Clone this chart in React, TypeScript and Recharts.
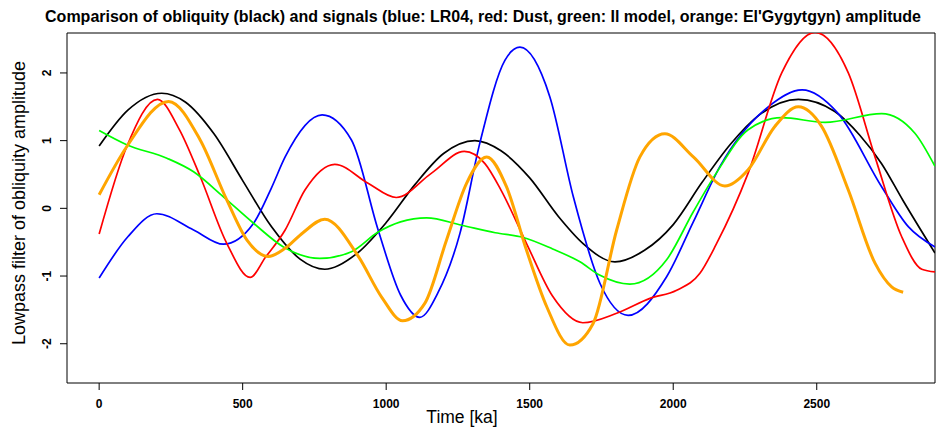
import React from "react";
import { LineChart, Line, XAxis, YAxis, ReferenceArea } from "recharts";

const FONT = '"Liberation Sans", Arial, Helvetica, sans-serif';

// obliquity (black)
const obliquityTime = [0, 100, 218, 300, 400, 500, 600, 700, 786, 900, 1000, 1100, 1200, 1309, 1400, 1500, 1600, 1686, 1797, 1900, 2000, 2100, 2200, 2300, 2436, 2563, 2650, 2726, 2800, 2912];
const obliquityAmp = [0.92, 1.45, 1.7, 1.57, 1.1, 0.41, -0.27, -0.75, -0.9, -0.66, -0.21, 0.35, 0.81, 1.0, 0.85, 0.45, -0.12, -0.52, -0.79, -0.62, -0.24, 0.38, 0.95, 1.38, 1.61, 1.43, 1.08, 0.66, 0.12, -0.66];

// LR04 (blue)
const lr04Time = [0, 100, 201, 329, 433, 538, 600, 648, 777, 879, 972, 1050, 1117, 1180, 1257, 1326, 1414, 1466, 1570, 1652, 1745, 1843, 1977, 2070, 2163, 2331, 2449, 2575, 2726, 2819, 2912];
const lr04Amp = [-1.03, -0.42, -0.08, -0.32, -0.53, -0.22, 0.3, 0.76, 1.38, 1.01, -0.32, -1.28, -1.61, -1.25, -0.37, 0.96, 2.19, 2.38, 1.65, 0.17, -1.11, -1.58, -1.01, -0.2, 0.62, 1.5, 1.75, 1.4, 0.32, -0.27, -0.57];

// Dust (red)
const dustTime = [0, 96, 203, 280, 352, 445, 526, 580, 648, 717, 821, 937, 1035, 1158, 1272, 1344, 1400, 1489, 1580, 1685, 1803, 1919, 2012, 2093, 2150, 2261, 2378, 2494, 2610, 2703, 2796, 2866, 2912];
const dustAmp = [-0.38, 0.91, 1.61, 1.16, 0.47, -0.52, -1.02, -0.72, -0.32, 0.27, 0.65, 0.37, 0.16, 0.52, 0.84, 0.66, 0.27, -0.52, -1.3, -1.69, -1.55, -1.33, -1.21, -0.96, -0.53, 0.52, 2.0, 2.6, 2.0, 0.76, -0.42, -0.9, -0.94];

// Il model (green)
const ilTime = [0, 96, 236, 329, 433, 538, 642, 769, 879, 972, 1050, 1141, 1263, 1380, 1478, 1580, 1675, 1745, 1849, 1977, 2070, 2150, 2261, 2378, 2529, 2726, 2842, 2912];
const ilAmp = [1.15, 0.94, 0.74, 0.54, 0.17, -0.22, -0.57, -0.74, -0.64, -0.35, -0.2, -0.14, -0.25, -0.36, -0.43, -0.6, -0.79, -0.99, -1.12, -0.76, -0.05, 0.52, 1.16, 1.34, 1.27, 1.4, 1.11, 0.62];

// El'Gygytgyn (orange)
const elgTime = [0, 96, 242, 352, 445, 515, 590, 648, 710, 786, 903, 984, 1057, 1135, 1210, 1280, 1350, 1419, 1489, 1559, 1640, 1721, 1803, 1884, 1971, 2070, 2180, 2261, 2354, 2436, 2517, 2610, 2703, 2761, 2801];
const elgAmp = [0.2, 0.91, 1.58, 1.01, 0.12, -0.47, -0.71, -0.59, -0.36, -0.16, -0.71, -1.31, -1.66, -1.4, -0.47, 0.37, 0.76, 0.32, -0.62, -1.45, -2.02, -1.7, -0.32, 0.76, 1.1, 0.76, 0.33, 0.57, 1.21, 1.5, 1.21, 0.27, -0.81, -1.16, -1.24];

const xTicks = [0, 500, 1000, 1500, 2000, 2500];
const yTicks = [-2, -1, 0, 1, 2];

const toPoints = (t: number[], v: number[]) => t.map((time, i) => ({ time, amp: v[i] }));

const XTick = (props: any) => (
  <text x={props.x} y={408} textAnchor="middle" fontFamily={FONT} fontWeight="bold" fontSize={12} fill="#000">
    {props.payload.value}
  </text>
);

const YTick = (props: any) => (
  <text
    x={51}
    y={props.y}
    transform={`rotate(-90 51 ${props.y})`}
    textAnchor="middle"
    fontFamily={FONT}
    fontWeight="bold"
    fontSize={12}
    fill="#000"
  >
    {props.payload.value}
  </text>
);

const XLabel = () => (
  <text x={462} y={423} textAnchor="middle" fontFamily={FONT} fontSize={17.5} fill="#000">
    Time [ka]
  </text>
);

const YLabel = () => (
  <text x={25} y={203} transform="rotate(-90 25 203)" textAnchor="middle" fontFamily={FONT} fontSize={18} fill="#000">
    Lowpass filter of obliquity amplitude
  </text>
);

export default function App() {
  return (
    <div style={{ position: "absolute", left: 0, top: 0, width: 936, height: 428, background: "#fff", overflow: "hidden" }}>
      <div
        style={{
          position: "absolute",
          left: 483,
          top: 8,
          transform: "translateX(-50%)",
          whiteSpace: "nowrap",
          fontFamily: FONT,
          fontWeight: "bold",
          fontSize: 16,
          lineHeight: "18px",
          color: "#000",
        }}
      >
        Comparison of obliquity (black) and signals (blue: LR04, red: Dust, green: Il model, orange: El'Gygytgyn) amplitude
      </div>
      <LineChart width={936} height={428} margin={{ top: 33, right: 1, bottom: 0, left: 0 }}>
        <XAxis
          dataKey="time"
          type="number"
          domain={[-112, 2912]}
          allowDataOverflow
          ticks={xTicks}
          interval={0}
          height={45}
          axisLine={false}
          tickSize={7}
          tickLine={{ stroke: "#000" }}
          tick={<XTick />}
          label={<XLabel />}
        />
        <YAxis
          type="number"
          domain={[-2.58, 2.59]}
          allowDataOverflow
          ticks={yTicks}
          interval={0}
          width={67}
          axisLine={false}
          tickSize={7}
          tickLine={{ stroke: "#000" }}
          tick={<YTick />}
          label={<YLabel />}
        />
        <ReferenceArea x1={-112} x2={2912} y1={-2.58} y2={2.59} fill="none" stroke="#000" strokeOpacity={1} />
        <Line data={toPoints(obliquityTime, obliquityAmp)} dataKey="amp" type="monotone" stroke="#000000" strokeWidth={1.7} dot={false} isAnimationActive={false} />
        <Line data={toPoints(lr04Time, lr04Amp)} dataKey="amp" type="monotone" stroke="#0000ff" strokeWidth={1.7} dot={false} isAnimationActive={false} />
        <Line data={toPoints(dustTime, dustAmp)} dataKey="amp" type="monotone" stroke="#ff0000" strokeWidth={1.7} dot={false} isAnimationActive={false} />
        <Line data={toPoints(ilTime, ilAmp)} dataKey="amp" type="monotone" stroke="#00ff00" strokeWidth={1.7} dot={false} isAnimationActive={false} />
        <Line data={toPoints(elgTime, elgAmp)} dataKey="amp" type="monotone" stroke="#ffa500" strokeWidth={3} dot={false} isAnimationActive={false} />
      </LineChart>
    </div>
  );
}
